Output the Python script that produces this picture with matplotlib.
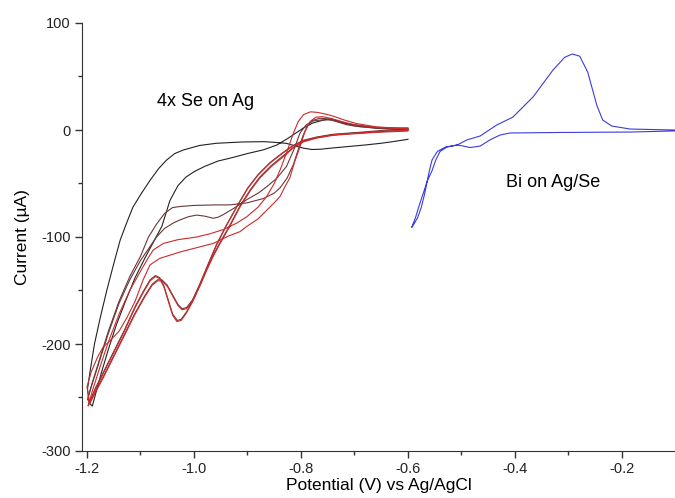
import matplotlib.pyplot as plt
from matplotlib.ticker import MultipleLocator

plt.rcParams['font.family'] = ['Liberation Sans', 'DejaVu Sans']

# Se deposition cycles on Ag (potential V, current uA)
# cycle 1 (black)
c1_cath_v = [-0.600, -0.630, -0.652, -0.680, -0.715, -0.745, -0.764, -0.780, -0.795, -0.810, -0.827, -0.850,
             -0.870, -0.910, -0.958, -0.990, -1.020, -1.036, -1.051, -1.066, -1.082, -1.098, -1.114, -1.126,
             -1.138, -1.150, -1.163, -1.175, -1.186, -1.194, -1.199]
c1_cath_i = [-8.7, -11, -12.5, -14, -15.6, -17, -18, -18.2, -17, -15, -12.5, -11.5,
             -10.9, -11.2, -12.4, -14.5, -18.7, -22, -28, -36, -47, -59, -72, -87,
             -103, -125, -150, -175, -200, -225, -242]
c1_anod_v = [-1.196, -1.190, -1.183, -1.172, -1.160, -1.145, -1.128, -1.110, -1.092, -1.075, -1.060, -1.045,
             -1.030, -1.015, -1.000, -0.980, -0.955, -0.930, -0.900, -0.870, -0.845, -0.825, -0.810, -0.795,
             -0.778, -0.760, -0.746, -0.730, -0.715, -0.696, -0.670, -0.640, -0.600]
c1_anod_i = [-255, -258, -245, -225, -205, -182, -160, -138, -120, -104, -90, -66,
             -52, -44, -39, -34, -29, -26, -22, -18.5, -14, -8, -3, 2,
             6.5, 9, 10.5, 8.5, 6, 4.5, 2.5, 1.2, 0]

# cycle 2 (dark)
c2_cath_v = [-0.600, -0.650, -0.700, -0.740, -0.770, -0.795, -0.815, -0.835, -0.858, -0.880, -0.900, -0.920,
             -0.940, -0.958, -0.975, -0.990, -1.003, -1.014, -1.022, -1.030, -1.040, -1.050, -1.060, -1.068,
             -1.078, -1.092, -1.110, -1.130, -1.150, -1.170, -1.185, -1.195]
c2_cath_i = [1, -0.5, -2.5, -4, -6.5, -9.5, -14.5, -21.5, -30.5, -41.5, -54.5, -71.5,
             -89.5, -107, -127, -145, -159, -166, -167, -163, -154, -145, -140, -140,
             -144, -155, -171, -191, -211, -231, -245, -254]
c2_anod_v = [-1.198, -1.190, -1.175, -1.160, -1.140, -1.120, -1.100, -1.085, -1.070, -1.055, -1.040, -1.026,
             -1.000, -0.960, -0.933, -0.900, -0.870, -0.850, -0.839, -0.826, -0.814, -0.805, -0.796, -0.788,
             -0.778, -0.765, -0.752, -0.735, -0.715, -0.690, -0.650, -0.600]
c2_anod_i = [-250, -236, -212, -188, -160, -137, -118, -100, -88, -78, -72.5, -71.5,
             -70.5, -70, -70, -68, -64, -59, -54, -45, -32, -18, -5, 4,
             9, 11, 10.5, 8, 5, 3, 2, 2]

# cycle 3 (dark)
c3_cath_v = [-0.600, -0.650, -0.700, -0.740, -0.770, -0.795, -0.815, -0.833, -0.855, -0.877, -0.895, -0.914,
             -0.933, -0.950, -0.964, -0.977, -0.989, -1.002, -1.014, -1.024, -1.031, -1.040, -1.048, -1.056,
             -1.064, -1.072, -1.082, -1.095, -1.110, -1.130, -1.150, -1.170, -1.185, -1.195]
c3_cath_i = [0, -1.5, -3, -4.5, -7, -10.5, -16.5, -24, -33, -44, -56, -71,
             -89, -104, -117, -131, -145, -159, -170, -177, -178, -172, -159, -146,
             -138, -136, -140, -151, -165, -187, -207, -227, -242, -254]
c3_anod_v = [-1.199, -1.192, -1.178, -1.160, -1.140, -1.120, -1.100, -1.085, -1.070, -1.055, -1.039, -1.026,
             -1.010, -0.995, -0.980, -0.964, -0.955, -0.945, -0.925, -0.901, -0.880, -0.864, -0.845, -0.827,
             -0.813, -0.802, -0.790, -0.777, -0.760, -0.740, -0.720, -0.702, -0.660, -0.600]
c3_anod_i = [-252, -240, -218, -190, -162, -140, -122, -111, -100, -92, -87, -84,
             -81, -79.5, -80.5, -82.5, -81.5, -79, -73, -65, -59, -53, -45, -34,
             -18, -3, 5, 8.5, 9.5, 9.3, 6.5, 4, 1.5, 0.5]

# cycle 4 (red)
c4_cath_v = [-0.600, -0.650, -0.700, -0.740, -0.770, -0.795, -0.815, -0.833, -0.855, -0.877, -0.895, -0.914,
             -0.933, -0.950, -0.964, -0.977, -0.989, -1.002, -1.014, -1.024, -1.032, -1.040, -1.048, -1.056,
             -1.064, -1.072, -1.082, -1.095, -1.110, -1.130, -1.150, -1.170, -1.185, -1.195]
c4_cath_i = [-1, -2, -3.5, -5, -7.5, -11, -17, -25, -34, -45, -57, -72,
             -90, -105, -118, -132, -146, -160, -171, -178, -179, -173, -160, -147,
             -139, -137, -141, -152, -166, -188, -208, -228, -243, -255]
c4_anod_v = [-1.198, -1.190, -1.176, -1.160, -1.140, -1.120, -1.100, -1.085, -1.076, -1.057, -1.030, -0.995,
             -0.970, -0.945, -0.920, -0.901, -0.880, -0.864, -0.850, -0.838, -0.826, -0.815, -0.805, -0.795,
             -0.782, -0.770, -0.755, -0.740, -0.720, -0.696, -0.660, -0.600]
c4_anod_i = [-258, -244, -222, -198, -172, -150, -132, -119, -112, -106, -102.5, -100,
             -97, -93, -87, -81, -72, -62, -50, -36, -20, -4, 8, 14.5,
             17, 16.5, 15, 13, 9.5, 6, 3, 1]

# cycle 5 (red)
c5_cath_v = [-0.600, -0.650, -0.700, -0.740, -0.770, -0.795, -0.815, -0.835, -0.858, -0.880, -0.900, -0.920,
             -0.940, -0.958, -0.975, -0.990, -1.003, -1.014, -1.022, -1.030, -1.040, -1.050, -1.060, -1.068,
             -1.078, -1.092, -1.110, -1.130, -1.150, -1.170, -1.185, -1.195]
c5_cath_i = [0, -1.5, -3, -4.5, -7, -10, -15, -22, -31, -42, -55, -72,
             -90, -108, -128, -146, -160, -167, -168, -164, -155, -146, -141, -141,
             -145, -156, -172, -192, -212, -232, -246, -256]
c5_anod_v = [-1.200, -1.192, -1.180, -1.170, -1.157, -1.140, -1.125, -1.110, -1.095, -1.082, -1.064, -1.045,
             -1.026, -0.995, -0.964, -0.935, -0.914, -0.901, -0.880, -0.864, -0.850, -0.839, -0.830, -0.821,
             -0.812, -0.802, -0.793, -0.783, -0.772, -0.760, -0.745, -0.725, -0.700, -0.660, -0.600]
c5_anod_i = [-240, -226, -212, -203, -197, -188, -175, -160, -140, -126, -120, -117,
             -114, -110, -106, -99, -95, -90, -83, -75, -68, -62, -53, -45,
             -30, -16, -2, 8, 12, 12.5, 11, 8, 5, 2.5, 1]

# Bi on Ag/Se (blue)
bi_cath_v = [-0.101, -0.185, -0.316, -0.409, -0.428, -0.447, -0.465, -0.484, -0.497, -0.508, -0.527, -0.540,
             -0.548, -0.555, -0.564, -0.572, -0.580, -0.586, -0.593]
bi_cath_i = [-0.9, -1.9, -2.3, -2.8, -4.7, -9.3, -15, -16.4, -15, -14, -15.9, -20,
             -28, -38, -47.7, -60, -72, -82, -91]
bi_anod_v = [-0.589, -0.582, -0.575, -0.569, -0.564, -0.560, -0.555, -0.545, -0.530, -0.508, -0.490, -0.465,
             -0.434, -0.404, -0.366, -0.329, -0.307, -0.293, -0.279, -0.264, -0.247, -0.236, -0.219, -0.185,
             -0.101]
bi_anod_i = [-88, -82, -72, -60, -47.7, -38, -28, -20, -16, -14, -9.3, -5.6,
             4.7, 12, 31, 56, 68, 71, 69, 54, 23, 9.3, 3.7, 0.9,
             0]

cycles = [
    (c1_cath_v + c1_anod_v, c1_cath_i + c1_anod_i, '#222222'),
    (c2_cath_v + c2_anod_v, c2_cath_i + c2_anod_i, '#6a3838'),
    (c3_cath_v + c3_anod_v, c3_cath_i + c3_anod_i, '#6a3838'),
    (c4_cath_v + c4_anod_v, c4_cath_i + c4_anod_i, '#cc2a2a'),
    (c5_cath_v + c5_anod_v, c5_cath_i + c5_anod_i, '#cc2a2a'),
]

fig = plt.figure(figsize=(6.75, 4.98), dpi=100)
ax = fig.add_axes([82 / 675, 47 / 498, 593 / 675, 428 / 498])

for v, i, col in cycles:
    ax.plot(v, i, color=col, lw=0.8)

ax.plot(bi_cath_v + bi_anod_v, bi_cath_i + bi_anod_i, color='#3c3cdc', lw=0.8)

ax.text(-0.978, 27, '4x Se on Ag', fontsize=13, ha='center', va='center')
ax.text(-0.329, -48.6, 'Bi on Ag/Se', fontsize=13, ha='center', va='center')

ax.set_xlim(-1.2093, -0.1009)
ax.set_ylim(-300, 100)
ax.xaxis.set_minor_locator(MultipleLocator(0.1))
ax.yaxis.set_minor_locator(MultipleLocator(50))
ax.set_xticks([-1.2, -1.0, -0.8, -0.6, -0.4, -0.2])
ax.set_xticklabels(['-1.2', '-1.0', '-0.8', '-0.6', '-0.4', '-0.2'])
ax.set_yticks([100, 0, -100, -200, -300])
ax.set_yticklabels(['100', '0', '-100', '-200', '-300'])

ax.spines['top'].set_visible(False)
ax.spines['right'].set_visible(False)
ax.spines['left'].set_color('#333333')
ax.spines['bottom'].set_color('#333333')
ax.tick_params(which='major', direction='out', length=5, width=1, labelsize=10.5, colors='#333333',
               labelcolor='#222222', pad=3)
ax.tick_params(which='minor', direction='out', length=3, width=1, colors='#333333')

ax.set_xlabel('Potential (V) vs Ag/AgCl', fontsize=12.5, labelpad=1)
ax.set_ylabel('Current (\u00b5A)', fontsize=12.5, labelpad=8)

fig.savefig('out.png', dpi=100)
